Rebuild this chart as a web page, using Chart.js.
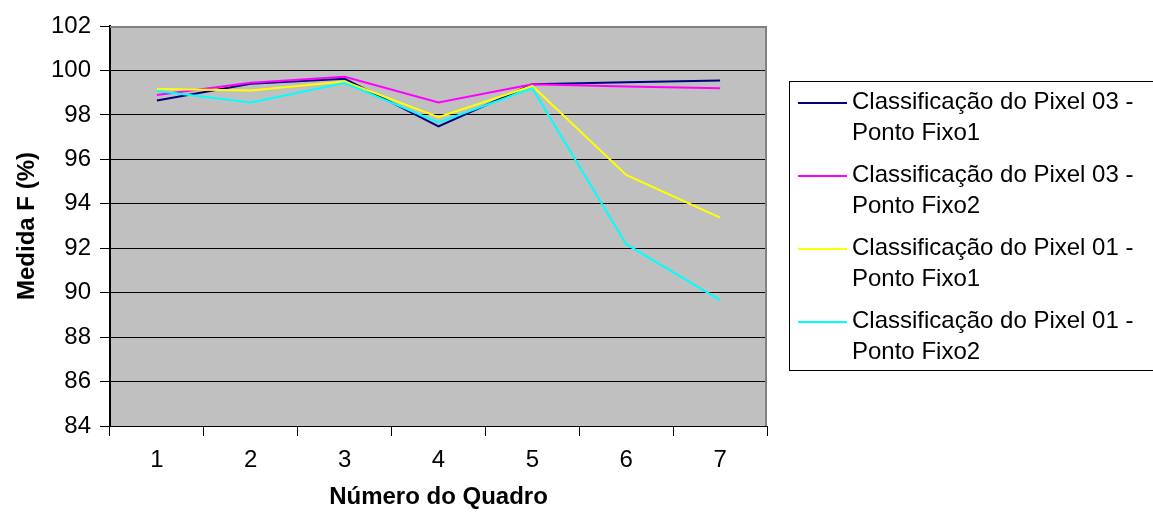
<!DOCTYPE html>
<html>
<head>
<meta charset="utf-8">
<script src="https://cdn.jsdelivr.net/npm/chart.js@4/dist/chart.umd.min.js"></script>
<style>
  html, body { margin: 0; padding: 0; background: #fff; }
  #wrap { width: 1153px; height: 515px; position: relative; }
</style>
</head>
<body>
<div id="wrap"><canvas id="c" width="1153" height="515"></canvas></div>
<script>
// Frame numbers on the x axis
const quadros = ['1', '2', '3', '4', '5', '6', '7'];

// F-measure (%) per frame for each classification run
const pixel03Fixo1 = [98.65, 99.40, 99.63, 97.48, 99.38, 99.47, 99.55];
const pixel03Fixo2 = [98.90, 99.45, 99.72, 98.56, 99.38, 99.28, 99.20];
const pixel01Fixo1 = [99.17, 99.10, 99.50, 97.90, 99.30, 95.30, 93.38];
const pixel01Fixo2 = [99.07, 98.56, 99.43, 97.66, 99.20, 92.18, 89.66];

const seriesNames = [
  'Classificação do Pixel 03 - Ponto Fixo1',
  'Classificação do Pixel 03 - Ponto Fixo2',
  'Classificação do Pixel 01 - Ponto Fixo1',
  'Classificação do Pixel 01 - Ponto Fixo2'
];
const seriesColors = ['#000080', '#FF00FF', '#FFFF00', '#00FFFF'];
const seriesValues = [pixel03Fixo1, pixel03Fixo2, pixel01Fixo1, pixel01Fixo2];

const FONT = '"Liberation Sans", Arial, sans-serif';

// Gray plot background with gray top/right frame
const plotFrame = {
  id: 'plotFrame',
  beforeDraw(chart) {
    const { ctx, chartArea: a } = chart;
    ctx.save();
    ctx.fillStyle = '#C0C0C0';
    ctx.fillRect(a.left, a.top, a.right - a.left, a.bottom - a.top);
    ctx.restore();
  },
  beforeDatasetsDraw(chart) {
    const { ctx, chartArea: a } = chart;
    ctx.save();
    ctx.strokeStyle = '#808080';
    ctx.lineWidth = 2;
    ctx.beginPath();
    ctx.moveTo(a.left, a.top + 1);
    ctx.lineTo(a.right - 1, a.top + 1);
    ctx.lineTo(a.right - 1, a.bottom);
    ctx.stroke();
    ctx.restore();
  }
};

// Boxed legend on the right, each entry wrapped after the dash
const boxLegend = {
  id: 'boxLegend',
  afterDraw(chart) {
    const { ctx } = chart;
    const box = { x: 789.5, y: 81.5, w: 400, h: 289 };
    ctx.save();
    ctx.strokeStyle = '#000';
    ctx.lineWidth = 1;
    ctx.strokeRect(box.x, box.y, box.w, box.h);
    ctx.font = '24px ' + FONT;
    ctx.fillStyle = '#000';
    ctx.textBaseline = 'middle';
    ctx.textAlign = 'left';
    chart.data.datasets.forEach((ds, i) => {
      const y0 = 103 + i * 73;
      ctx.strokeStyle = ds.borderColor;
      ctx.lineWidth = 2;
      ctx.beginPath();
      ctx.moveTo(798, y0);
      ctx.lineTo(847, y0);
      ctx.stroke();
      const cut = ds.label.indexOf('- ') + 1;
      const lines = [ds.label.slice(0, cut), ds.label.slice(cut + 1)];
      ctx.fillStyle = '#000';
      ctx.fillText(lines[0], 852, y0 - 1);
      ctx.fillText(lines[1], 852, y0 + 30);
    });
    ctx.restore();
  }
};

new Chart(document.getElementById('c'), {
  type: 'line',
  data: {
    labels: quadros,
    datasets: seriesValues.map((vals, i) => ({
      label: seriesNames[i],
      data: vals,
      borderColor: seriesColors[i],
      backgroundColor: seriesColors[i],
      borderWidth: 2,
      pointRadius: 0,
      tension: 0,
      fill: false,
      order: seriesValues.length - i
    }))
  },
  options: {
    responsive: false,
    animation: false,
    events: [],
    layout: { padding: { left: 0, top: 26, right: 386, bottom: 0 } },
    plugins: { legend: { display: false }, tooltip: { enabled: false } },
    scales: {
      x: {
        offset: true,
        afterFit(scale) { scale.height = 89; },
        grid: {
          offset: true,
          drawOnChartArea: false,
          drawTicks: true,
          tickLength: 10,
          color: '#000',
          tickColor: '#000'
        },
        border: { color: '#000', width: 1 },
        ticks: {
          color: '#000',
          font: { family: FONT, size: 24 },
          padding: 10,
          maxRotation: 0
        },
        title: {
          display: true,
          text: 'Número do Quadro',
          color: '#000',
          font: { family: FONT, size: 24, weight: 'bold' },
          padding: { top: 0, bottom: 3 }
        }
      },
      y: {
        min: 84,
        max: 102,
        afterFit(scale) { scale.width = 110; },
        grid: {
          color: (c) => (c.tick && c.tick.value === 102 ? '#808080' : '#000'),
          tickColor: '#000',
          tickLength: 10,
          lineWidth: 1
        },
        border: { color: '#000', width: 2 },
        ticks: {
          stepSize: 2,
          color: '#000',
          font: { family: FONT, size: 24 },
          padding: 9
        },
        title: {
          display: true,
          text: 'Medida F (%)',
          color: '#000',
          font: { family: FONT, size: 24, weight: 'bold' },
          padding: { top: 13, bottom: 0 }
        }
      }
    }
  },
  plugins: [plotFrame, boxLegend]
});
</script>
</body>
</html>
